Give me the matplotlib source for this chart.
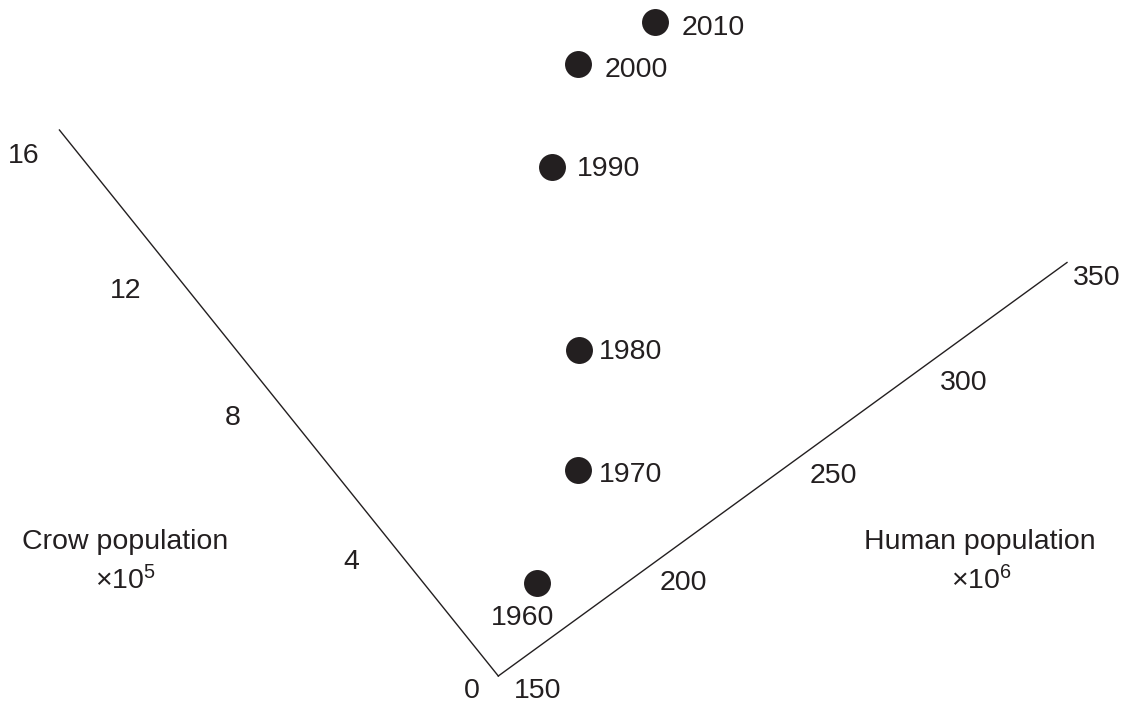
import matplotlib.pyplot as plt
from matplotlib.transforms import Affine2D

plt.rcParams['font.family'] = ['Liberation Sans', 'DejaVu Sans']
plt.rcParams['mathtext.fontset'] = 'custom'
plt.rcParams['mathtext.rm'] = 'Liberation Sans'
plt.rcParams['mathtext.it'] = 'Liberation Sans'

# data
years = [1960, 1970, 1980, 1990, 2000, 2010]
human = [175.2, 204.5, 226.1, 252.6, 276.9, 301.5]   # x 10^6
crow = [1.19, 2.73, 4.95, 8.69, 10.24, 9.99]          # x 10^5

crow_ticks = [0, 4, 8, 12, 16]
human_ticks = [150, 200, 250, 300, 350]

INK = '#231f20'
FS = 20.5

fig = plt.figure(figsize=(11.31, 7.04), dpi=100)
ax = fig.add_axes([0, 0, 1, 1])
ax.set_xlim(0, 1131)
ax.set_ylim(704, 0)
ax.axis('off')

# skewed frame: (human, crow) -> canvas pixels
ox, oy = 498.3, 676.0
ux, uy = -27.43, -34.125     # per crow unit
vx, vy = 2.8435, -2.0675     # per human unit
skew = Affine2D([[vx, ux, ox - 150 * vx],
                 [vy, uy, oy - 150 * vy],
                 [0, 0, 1]]) + ax.transData

ax.plot([150, 150], [0, 16], color=INK, lw=1.0, transform=skew)
ax.plot([150, 350], [0, 0], color=INK, lw=1.0, transform=skew)

# tick labels, offsets in pixels (x right, y down) from the axis point
crow_off = [(-26.6, 12.3), (-37, 19), (-46, 12), (-44, 21.5), (-36, 23)]
human_off = [(39, 12), (42.5, 7.4), (50.6, 4), (38.4, 14), (29.7, 12.5)]
for t, (dx, dy) in zip(crow_ticks, crow_off):
    ax.annotate(str(t), xy=(150, t), xycoords=skew, xytext=(dx, -(dy + 10.2)),
                textcoords='offset pixels', ha='center', va='baseline',
                fontsize=FS, color=INK)
for t, (dx, dy) in zip(human_ticks, human_off):
    ax.annotate(str(t), xy=(t, 0), xycoords=skew, xytext=(dx, -(dy + 10.2)),
                textcoords='offset pixels', ha='center', va='baseline',
                fontsize=FS, color=INK)

# points
ax.plot(human, crow, 'o', ms=19.4, color=INK, mec='none', transform=skew)

year_off = [(-14.6, 41.9), (20.7, 12.3), (20, 9), (25, 8.7), (26.7, 13), (26.7, 13.3)]
for yr, h, c, (dx, dy) in zip(years, human, crow, year_off):
    ha = 'center' if yr == 1960 else 'left'
    ax.annotate(str(yr), xy=(h, c), xycoords=skew, xytext=(dx, -dy),
                textcoords='offset pixels', ha=ha, va='baseline',
                fontsize=FS, color=INK)

# axis titles
ax.text(125, 549, 'Crow population', ha='center', va='baseline', fontsize=FS, color=INK)
ax.text(125, 589, '×10$^{5}$', ha='center', va='baseline', fontsize=FS, color=INK)
ax.text(980, 549, 'Human population', ha='center', va='baseline', fontsize=FS, color=INK)
ax.text(981, 589, '×10$^{6}$', ha='center', va='baseline', fontsize=FS, color=INK)

fig.savefig('out.png', dpi=100)
